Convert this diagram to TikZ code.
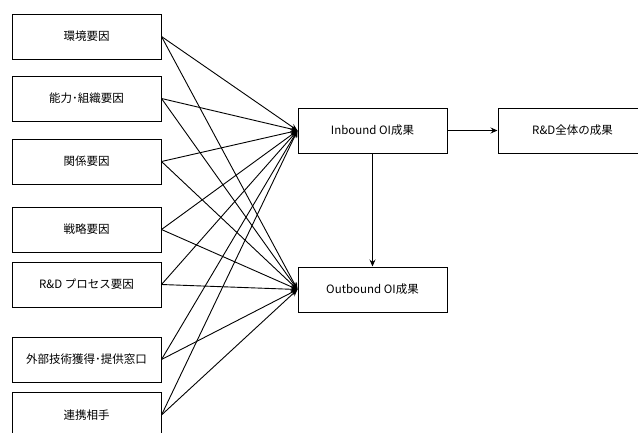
\documentclass[tikz,border=0pt]{standalone}
\usepackage{fontspec}
\setmainfont{Noto Sans CJK JP}
\usepackage{tikz}
\usetikzlibrary{arrows.meta}
\pgfdeclarelayer{nodelayer}
\pgfdeclarelayer{edgelayer}
\pgfsetlayers{edgelayer,nodelayer,main}
\tikzset{
    box/.style = {draw, fill=white, line width=1pt, minimum width=149pt, minimum height=45pt, inner sep=0pt, font=\fontsize{11.5}{13}\selectfont},
    arr/.style = {line width=0.9pt, -{Stealth[length=7pt,width=6pt,inset=2.5pt]}}
}
\begin{document}
\begin{tikzpicture}[x=1pt,y=-1pt]
    \useasboundingbox (0,0) rectangle (638,432);
    \clip (0,0) rectangle (638,432);
    \begin{pgfonlayer}{nodelayer}
        \node [style=box] (env) at (86.5, 36.5) {環境要因};
        \node [style=box] (org) at (86.5, 98.5) {能力･組織要因};
        \node [style=box] (rel) at (86.5, 161.5) {関係要因};
        \node [style=box] (str) at (86.5, 229.5) {戦略要因};
        \node [style=box] (proc) at (86.5, 284.5) {R\&D プロセス要因};
        \node [style=box] (win) at (86.5, 359.5) {外部技術獲得･提供窓口};
        \node [style=box] (part) at (86.5, 415) {連携相手};
        \node [style=box] (in) at (372.5, 130.5) {Inbound OI成果};
        \node [style=box] (out) at (372.5, 289.5) {Outbound OI成果};
        \node [style=box] (rd) at (572.5, 130.5) {R\&D全体の成果};
    \end{pgfonlayer}
    \begin{pgfonlayer}{edgelayer}
        \draw [style=arr] (env.east) to (in.west);
        \draw [style=arr] (org.east) to (in.west);
        \draw [style=arr] (rel.east) to (in.west);
        \draw [style=arr] (str.east) to (in.west);
        \draw [style=arr] (proc.east) to (in.west);
        \draw [style=arr] (win.east) to (in.west);
        \draw [style=arr] (part.east) to (in.west);
        \draw [style=arr] (env.east) to (out.west);
        \draw [style=arr] (org.east) to (out.west);
        \draw [style=arr] (rel.east) to (out.west);
        \draw [style=arr] (str.east) to (out.west);
        \draw [style=arr] (proc.east) to (out.west);
        \draw [style=arr] (win.east) to (out.west);
        \draw [style=arr] (part.east) to (out.west);
        \draw [style=arr] (in.east) to (rd.west);
        \draw [style=arr] (in.south) to (out.north);
    \end{pgfonlayer}
\end{tikzpicture}
\end{document}
